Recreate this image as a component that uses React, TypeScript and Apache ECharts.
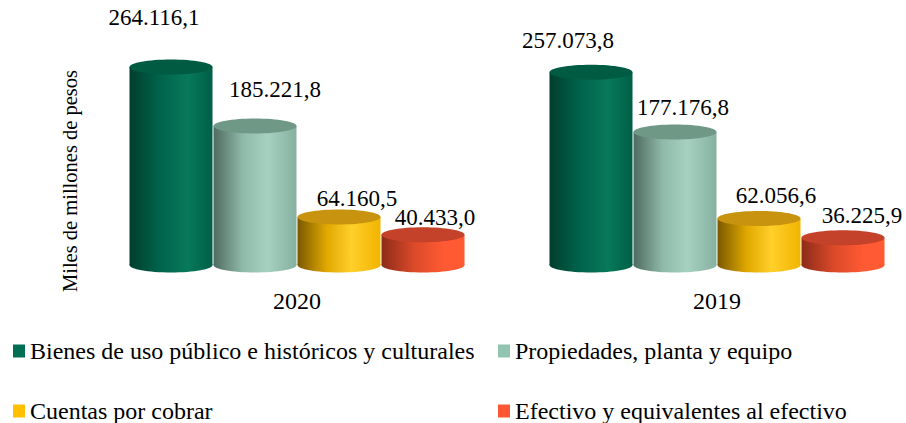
import React, { useEffect, useRef } from "react";
import * as echarts from "echarts";

const CATEGORIES = ["2020", "2019"];
const SERIES_NAMES = [
  "Bienes de uso público e históricos y culturales",
  "Propiedades, planta y equipo",
  "Cuentas por cobrar",
  "Efectivo y equivalentes al efectivo",
];
const BIENES = [264116.1, 257073.8];
const PROPIEDADES = [185221.8, 177176.8];
const CUENTAS = [64160.5, 62056.6];
const EFECTIVO = [40433.0, 36225.9];
const Y_AXIS_NAME = "Miles de millones de pesos";

const SERIES_VALUES = [BIENES, PROPIEDADES, CUENTAS, EFECTIVO];

// styling / layout constants
const LEGEND_COLORS = ["#006e51", "#93c3b1", "#ffc000", "#ff5733"];
const BODY_STOPS = [
  [
    [0, "#003e2d"],
    [0.35, "#00624a"],
    [0.7, "#08795a"],
    [1, "#005f46"],
  ],
  [
    [0, "#4f6b61"],
    [0.35, "#8fb9a9"],
    [0.65, "#a6d0c0"],
    [1, "#86b09f"],
  ],
  [
    [0, "#7a5800"],
    [0.35, "#e0a800"],
    [0.65, "#ffcf2a"],
    [1, "#f2b400"],
  ],
  [
    [0, "#8c2c18"],
    [0.4, "#dc4a2a"],
    [0.75, "#ff5a33"],
    [1, "#ff5a32"],
  ],
];
const TOP_COLORS = ["#005b43", "#6f9887", "#c89410", "#c4412a"];
// label offsets (dx, dy) from each bar's top centre, [series][category]
const LABEL_OFFSETS = [
  [[-17, -49], [-23, -32]],
  [[20, -37], [8, -25]],
  [[18, -18], [17, -23]],
  [[12, -17], [19, -22]],
];
// legend placement: [left, top] per series
const LEGEND_POS = [
  [13, 339],
  [498, 339],
  [13, 399],
  [498, 399],
];

const FONT = "'Liberation Serif', 'Times New Roman', serif";

function fmt(v: number): string {
  const fixed = v.toFixed(1);
  const [intPart, dec] = fixed.split(".");
  const withDots = intPart.replace(/\B(?=(\d{3})+(?!\d))/g, ".");
  return withDots + "," + dec;
}

export default function App() {
  const ref = useRef<HTMLDivElement>(null);

  useEffect(() => {
    if (!ref.current) return;
    const chart = echarts.init(ref.current, null, { renderer: "svg" });

    const series = SERIES_VALUES.map((vals, sIdx) => ({
      type: "custom",
      name: SERIES_NAMES[sIdx],
      itemStyle: { color: LEGEND_COLORS[sIdx] },
      clip: false,
      encode: { x: 0, y: 1 },
      data: vals.map((v, i) => [i, v]),
      renderItem: (params: any, api: any) => {
        const catIdx = api.value(0);
        const val = api.value(1);
        const base = api.coord([catIdx, 0]);
        const top = api.coord([catIdx, val]);
        const band = api.size([1, 0])[0];
        const barW = (band * 0.8) / 4;
        const cx = base[0] + (sIdx - 1.5) * barW;
        const rx = barW / 2 - 0.5;
        const ry = 7.5;
        const stops = BODY_STOPS[sIdx].map(([o, c]) => ({ offset: o as number, color: c as string }));
        const grad = new echarts.graphic.LinearGradient(0, 0, 1, 0, stops);
        const grad2 = new echarts.graphic.LinearGradient(0, 0, 1, 0, stops);
        const off = LABEL_OFFSETS[sIdx][params.dataIndex];
        return {
          type: "group",
          children: [
            {
              type: "ellipse",
              shape: { cx, cy: base[1], rx, ry },
              style: { fill: grad2 },
            },
            {
              type: "rect",
              shape: { x: cx - rx, y: top[1], width: rx * 2, height: base[1] - top[1] },
              style: { fill: grad },
            },
            {
              type: "ellipse",
              shape: { cx, cy: top[1], rx, ry },
              style: { fill: TOP_COLORS[sIdx] },
            },
            {
              type: "text",
              x: cx + off[0],
              y: top[1] + off[1],
              style: {
                text: fmt(val),
                fill: "#000",
                font: `23px ${FONT}`,
                align: "center",
                verticalAlign: "middle",
              },
            },
          ],
        };
      },
    }));

    const option: any = {
      animation: false,
      grid: { left: 87, top: 40, width: 840, bottom: 158, outerBoundsMode: "none", containLabel: false },
      xAxis: {
        type: "category",
        data: CATEGORIES,
        axisLine: { show: false },
        axisTick: { show: false },
        axisLabel: {
          margin: 24,
          color: "#000",
          fontSize: 24,
          fontFamily: FONT,
        },
      },
      yAxis: {
        type: "value",
        min: 0,
        max: 300000,
        axisLine: { show: false },
        axisTick: { show: false },
        axisLabel: { show: false },
        splitLine: { show: false },
      },
      legend: SERIES_NAMES.map((name, i) => ({
        left: LEGEND_POS[i][0],
        top: LEGEND_POS[i][1],
        icon: "rect",
        itemWidth: 12,
        itemHeight: 13,
        padding: 0,
        data: [name],
        textStyle: { color: "#000", fontSize: 24, fontFamily: FONT, lineHeight: 24 },
      })),
      graphic: [
        {
          type: "text",
          x: 70,
          y: 181,
          rotation: Math.PI / 2,
          style: {
            text: Y_AXIS_NAME,
            fill: "#000",
            font: `20.5px ${FONT}`,
            align: "center",
            verticalAlign: "middle",
          },
        },
      ],
      series,
    };

    chart.setOption(option);
    return () => chart.dispose();
  }, []);

  return (
    <div
      ref={ref}
      style={{ position: "absolute", left: 0, top: 0, width: 906, height: 423, background: "#fff" }}
    />
  );
}
